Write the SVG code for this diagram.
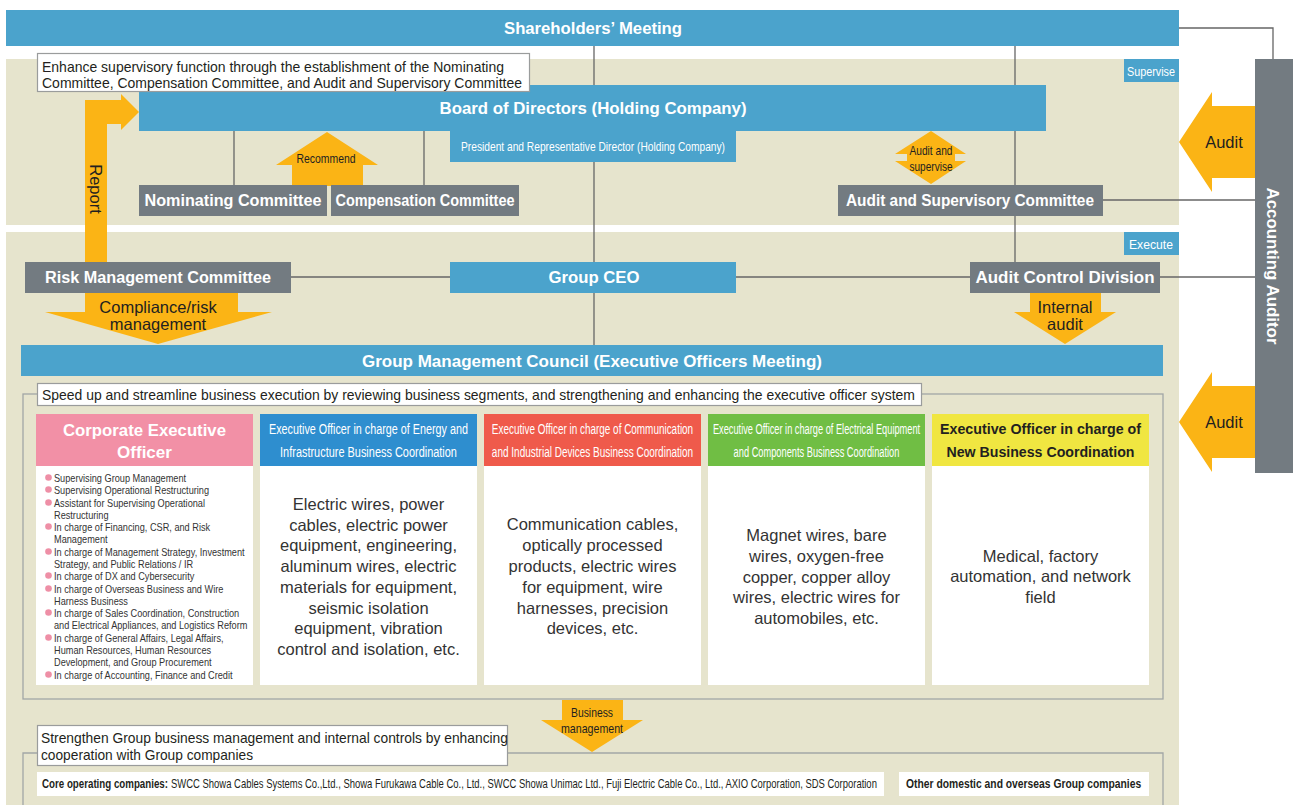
<svg xmlns="http://www.w3.org/2000/svg" width="1293" height="805" viewBox="0 0 1293 805">
  <defs>
    <style>
      .blue { fill: #4ba3cc; }
      .gray { fill: #737b81; }
      .beige { fill: #e6e4cd; }
      .org { fill: #fbb415; }
      .white { fill: #ffffff; }
      .call { fill: #ffffff; stroke: #9a9c9c; stroke-width: 1.2; }
      .ln { fill: none; stroke: #666666; stroke-width: 1.3; }
      .frame { fill: none; stroke: #a2a6a6; stroke-width: 1.3; }
      text { font-family: "Liberation Sans", Arial, sans-serif; dominant-baseline: central; }
      .lbl { font-weight: bold; font-size: 16px; fill: #ffffff; text-anchor: middle; }
      .tag { font-size: 13px; fill: #ffffff; text-anchor: middle; }
      .ar { font-size: 16.5px; fill: #231f20; text-anchor: middle; }
      .sm { font-size: 13px; fill: #231f20; text-anchor: middle; }
      .note { font-size: 15px; fill: #231f20; }
      .hd { font-size: 14.5px; fill: #ffffff; text-anchor: middle; }
      .body { font-size: 16.5px; fill: #333333; text-anchor: middle; }
      .bl { font-size: 11px; fill: #333333; }
      .dot { fill: #ee8fa6; }
      .co { font-size: 12px; fill: #231f20; }
    </style>
  </defs>

  <!-- background bands -->
  <rect class="beige" x="6" y="59" width="1173" height="166"/>
  <rect class="beige" x="6" y="232" width="1173" height="573"/>

  <!-- connectors -->
  <g id="connectors">
    <line class="ln" x1="594" y1="46" x2="594" y2="345"/>
    <line class="ln" x1="1015" y1="46" x2="1015" y2="262"/>
    <line class="ln" x1="234" y1="130" x2="234" y2="186"/>
    <line class="ln" x1="424" y1="130" x2="424" y2="186"/>
    <line class="ln" x1="291" y1="277" x2="450" y2="277"/>
    <line class="ln" x1="736" y1="277" x2="970" y2="277"/>
    <line class="ln" x1="1160" y1="277" x2="1255" y2="277"/>
    <line class="ln" x1="1103" y1="200" x2="1255" y2="200"/>
    <path class="ln" d="M1179,28 H1273 V59"/>
    <rect class="frame" x="23" y="394" width="1140" height="305"/>
    <path class="frame" d="M23,805 V753 H1163 V805"/>
  </g>

  <!-- Shareholders' Meeting -->
  <g id="shareholders">
    <rect class="blue" x="6" y="10" width="1173" height="36"/>
    <text class="lbl" x="593" y="28" textLength="178" lengthAdjust="spacingAndGlyphs">Shareholders’ Meeting</text>
  </g>

  <!-- tags -->
  <g id="tag-supervise">
    <rect class="blue" x="1124" y="59" width="55" height="23"/>
    <text class="tag" x="1151" y="71" textLength="48" lengthAdjust="spacingAndGlyphs">Supervise</text>
  </g>
  <g id="tag-execute">
    <rect class="blue" x="1124" y="232" width="55" height="23"/>
    <text class="tag" x="1151" y="244" textLength="44" lengthAdjust="spacingAndGlyphs">Execute</text>
  </g>

  <!-- Report arrow -->
  <g id="report-arrow">
    <path class="org" d="M85,262 V100 H121 V94 L139,112 L121,130 V124 H107 V262 Z"/>
    <text class="ar" transform="translate(96 189) rotate(90)" x="0" y="0">Report</text>
  </g>

  <!-- Board of Directors -->
  <g id="board">
    <rect class="blue" x="139" y="85" width="907" height="46"/>
    <text class="lbl" x="593" y="108" textLength="307" lengthAdjust="spacingAndGlyphs">Board of Directors (Holding Company)</text>
  </g>
  <g id="president">
    <rect class="blue" x="450" y="130" width="286" height="32"/>
    <text class="tag" x="593" y="146" textLength="264" lengthAdjust="spacingAndGlyphs">President and Representative Director (Holding Company)</text>
  </g>

  <!-- supervisory note -->
  <g id="note-supervisory">
    <rect class="call" x="37.5" y="53.5" width="492" height="38"/>
    <text class="note" x="42" y="66" textLength="462" lengthAdjust="spacingAndGlyphs">Enhance supervisory function through the establishment of the Nominating</text>
    <text class="note" x="42" y="82" textLength="480" lengthAdjust="spacingAndGlyphs">Committee, Compensation Committee, and Audit and Supervisory Committee</text>
  </g>

  <!-- Recommend arrow -->
  <g id="recommend-arrow">
    <path class="org" d="M327,132 L378,165 H363 V186 H292 V165 H276 Z"/>
    <text class="sm" x="326" y="158" textLength="59" lengthAdjust="spacingAndGlyphs">Recommend</text>
  </g>

  <!-- committees -->
  <g id="nominating">
    <rect class="gray" x="139" y="185" width="188" height="31"/>
    <text class="lbl" x="233" y="200" textLength="177" lengthAdjust="spacingAndGlyphs">Nominating Committee</text>
  </g>
  <g id="compensation">
    <rect class="gray" x="331" y="185" width="188" height="31"/>
    <text class="lbl" x="425" y="200" textLength="179" lengthAdjust="spacingAndGlyphs">Compensation Committee</text>
  </g>
  <g id="audit-supervise-arrow">
    <path class="org" d="M931,131 L966,154 H955 V161 H966 L931,184 L895,161 H907 V154 H895 Z"/>
    <text class="sm" x="931" y="150" textLength="43" lengthAdjust="spacingAndGlyphs">Audit and</text>
    <text class="sm" x="931" y="166" textLength="43" lengthAdjust="spacingAndGlyphs">supervise</text>
  </g>
  <g id="audit-supervisory-committee">
    <rect class="gray" x="838" y="185" width="265" height="31"/>
    <text class="lbl" x="970" y="200" textLength="248" lengthAdjust="spacingAndGlyphs">Audit and Supervisory Committee</text>
  </g>

  <!-- Accounting Auditor -->
  <g id="accounting-auditor">
    <rect class="gray" x="1255" y="59" width="38" height="414"/>
    <text class="lbl" transform="translate(1272 266) rotate(90)" x="0" y="0" textLength="157" lengthAdjust="spacingAndGlyphs">Accounting Auditor</text>
  </g>
  <g id="audit-arrow-1">
    <path class="org" d="M1179,142 L1212,92 V106 H1255 V178 H1212 V192 Z"/>
    <text class="ar" x="1224" y="142">Audit</text>
  </g>
  <g id="audit-arrow-2">
    <path class="org" d="M1179,422 L1212,372 V386 H1255 V458 H1212 V472 Z"/>
    <text class="ar" x="1224" y="422">Audit</text>
  </g>

  <!-- execution row -->
  <g id="risk-management">
    <rect class="gray" x="25" y="262" width="266" height="31"/>
    <text class="lbl" x="158" y="277" textLength="226" lengthAdjust="spacingAndGlyphs">Risk Management Committee</text>
  </g>
  <g id="group-ceo">
    <rect class="blue" x="450" y="262" width="286" height="31"/>
    <text class="lbl" x="594" y="277" textLength="91" lengthAdjust="spacingAndGlyphs">Group CEO</text>
  </g>
  <g id="audit-control">
    <rect class="gray" x="970" y="262" width="190" height="31"/>
    <text class="lbl" x="1065" y="277" textLength="179" lengthAdjust="spacingAndGlyphs">Audit Control Division</text>
  </g>
  <g id="compliance-arrow">
    <path class="org" d="M85,293 V312 H45 L158,344 L272,312 H238 V293 Z"/>
    <text class="ar" x="158" y="307">Compliance/risk</text>
    <text class="ar" x="158" y="324">management</text>
  </g>
  <g id="internal-audit-arrow">
    <path class="org" d="M1030,293 V312 H1014 L1065,344 L1116,312 H1101 V293 Z"/>
    <text class="ar" x="1065" y="307">Internal</text>
    <text class="ar" x="1065" y="324">audit</text>
  </g>

  <!-- Group Management Council -->
  <g id="council">
    <rect class="blue" x="21" y="345" width="1142" height="31"/>
    <text class="lbl" x="592" y="361" textLength="460" lengthAdjust="spacingAndGlyphs">Group Management Council (Executive Officers Meeting)</text>
  </g>

  <!-- execution note -->
  <g id="note-execution">
    <rect class="call" x="37.5" y="383.5" width="884" height="22"/>
    <text class="note" x="42" y="394" textLength="873" lengthAdjust="spacingAndGlyphs">Speed up and streamline business execution by reviewing business segments, and strengthening and enhancing the executive officer system</text>
  </g>

  <!-- executive officer columns -->
  <g id="corporate-officer">
    <rect fill="#f290a6" x="36" y="414" width="217" height="52"/>
    <rect class="white" x="36" y="466" width="217" height="219"/>
    <text class="lbl" x="144.5" y="430" style="font-size:17px" textLength="163" lengthAdjust="spacingAndGlyphs">Corporate Executive</text>
    <text class="lbl" x="144.5" y="452" style="font-size:17px">Officer</text>
    <g>
      <circle class="dot" cx="48.5" cy="477.5" r="3.3"/>
      <circle class="dot" cx="48.5" cy="489.5" r="3.3"/>
      <circle class="dot" cx="48.5" cy="502.5" r="3.3"/>
      <circle class="dot" cx="48.5" cy="526.5" r="3.3"/>
      <circle class="dot" cx="48.5" cy="551.5" r="3.3"/>
      <circle class="dot" cx="48.5" cy="575.5" r="3.3"/>
      <circle class="dot" cx="48.5" cy="588.5" r="3.3"/>
      <circle class="dot" cx="48.5" cy="612.5" r="3.3"/>
      <circle class="dot" cx="48.5" cy="637.5" r="3.3"/>
      <circle class="dot" cx="48.5" cy="674.5" r="3.3"/>
    </g>
    <g transform="translate(54 0) scale(0.835 1)">
      <text class="bl" x="0" y="478">Supervising Group Management</text>
      <text class="bl" x="0" y="490">Supervising Operational Restructuring</text>
      <text class="bl" x="0" y="503">Assistant for Supervising Operational</text>
      <text class="bl" x="0" y="515">Restructuring</text>
      <text class="bl" x="0" y="527">In charge of Financing, CSR, and Risk</text>
      <text class="bl" x="0" y="539">Management</text>
      <text class="bl" x="0" y="552">In charge of Management Strategy, Investment</text>
      <text class="bl" x="0" y="564">Strategy, and Public Relations / IR</text>
      <text class="bl" x="0" y="576">In charge of DX and Cybersecurity</text>
      <text class="bl" x="0" y="589">In charge of Overseas Business and Wire</text>
      <text class="bl" x="0" y="601">Harness Business</text>
      <text class="bl" x="0" y="613">In charge of Sales Coordination, Construction</text>
      <text class="bl" x="0" y="625">and Electrical Appliances, and Logistics Reform</text>
      <text class="bl" x="0" y="638">In charge of General Affairs, Legal Affairs,</text>
      <text class="bl" x="0" y="650">Human Resources, Human Resources</text>
      <text class="bl" x="0" y="662">Development, and Group Procurement</text>
      <text class="bl" x="0" y="675">In charge of Accounting, Finance and Credit</text>
    </g>
  </g>

  <!-- condensed header lines: horizontal scale + fitted length -->
  <g id="energy-officer">
    <rect fill="#2e8ecf" x="260" y="414" width="217" height="52"/>
    <rect class="white" x="260" y="466" width="217" height="219"/>
    <text class="hd" transform="translate(368.5 429) scale(0.74 1)" x="0" y="0" textLength="269" lengthAdjust="spacingAndGlyphs">Executive Officer in charge of Energy and</text>
    <text class="hd" transform="translate(368.5 452) scale(0.74 1)" x="0" y="0" textLength="239" lengthAdjust="spacingAndGlyphs">Infrastructure Business Coordination</text>
    <text class="body" x="368.5" y="504">Electric wires, power</text>
    <text class="body" x="368.5" y="525">cables, electric power</text>
    <text class="body" x="368.5" y="545">equipment, engineering,</text>
    <text class="body" x="368.5" y="566">aluminum wires, electric</text>
    <text class="body" x="368.5" y="587">materials for equipment,</text>
    <text class="body" x="368.5" y="608">seismic isolation</text>
    <text class="body" x="368.5" y="628">equipment, vibration</text>
    <text class="body" x="368.5" y="649">control and isolation, etc.</text>
  </g>

  <g id="communication-officer">
    <rect fill="#ef5a4b" x="484" y="414" width="217" height="52"/>
    <rect class="white" x="484" y="466" width="217" height="219"/>
    <text class="hd" transform="translate(592.5 429) scale(0.74 1)" x="0" y="0" textLength="272" lengthAdjust="spacingAndGlyphs">Executive Officer in charge of Communication</text>
    <text class="hd" transform="translate(592.5 452) scale(0.74 1)" x="0" y="0" textLength="272" lengthAdjust="spacingAndGlyphs">and Industrial Devices Business Coordination</text>
    <text class="body" x="592.5" y="524">Communication cables,</text>
    <text class="body" x="592.5" y="545">optically processed</text>
    <text class="body" x="592.5" y="566">products, electric wires</text>
    <text class="body" x="592.5" y="587">for equipment, wire</text>
    <text class="body" x="592.5" y="608">harnesses, precision</text>
    <text class="body" x="592.5" y="628">devices, etc.</text>
  </g>

  <g id="electrical-officer">
    <rect fill="#70be44" x="708" y="414" width="217" height="52"/>
    <rect class="white" x="708" y="466" width="217" height="219"/>
    <text class="hd" transform="translate(816.5 429) scale(0.74 1)" x="0" y="0" textLength="280" lengthAdjust="spacingAndGlyphs">Executive Officer in charge of Electrical Equipment</text>
    <text class="hd" transform="translate(816.5 452) scale(0.74 1)" x="0" y="0" textLength="224" lengthAdjust="spacingAndGlyphs">and Components Business Coordination</text>
    <text class="body" x="816.5" y="535">Magnet wires, bare</text>
    <text class="body" x="816.5" y="556">wires, oxygen-free</text>
    <text class="body" x="816.5" y="577">copper, copper alloy</text>
    <text class="body" x="816.5" y="597">wires, electric wires for</text>
    <text class="body" x="816.5" y="618">automobiles, etc.</text>
  </g>

  <g id="new-business-officer">
    <rect fill="#f0e641" x="932" y="414" width="217" height="52"/>
    <rect class="white" x="932" y="466" width="217" height="219"/>
    <text class="hd" x="1040.5" y="429" style="font-weight:bold;fill:#231f20" textLength="201" lengthAdjust="spacingAndGlyphs">Executive Officer in charge of</text>
    <text class="hd" x="1040.5" y="452" style="font-weight:bold;fill:#231f20" textLength="188" lengthAdjust="spacingAndGlyphs">New Business Coordination</text>
    <text class="body" x="1040.5" y="556">Medical, factory</text>
    <text class="body" x="1040.5" y="576">automation, and network</text>
    <text class="body" x="1040.5" y="597">field</text>
  </g>

  <!-- Business management arrow -->
  <g id="business-management-arrow">
    <path class="org" d="M562,700 V720 H541 L592,752 L643,720 H623 V700 Z"/>
    <text class="sm" x="592" y="712" textLength="42" lengthAdjust="spacingAndGlyphs">Business</text>
    <text class="sm" x="592" y="728" textLength="62" lengthAdjust="spacingAndGlyphs">management</text>
  </g>

  <!-- group companies -->
  <g id="note-group">
    <rect class="call" x="37.5" y="725.5" width="470" height="40"/>
    <text class="note" x="41" y="737" textLength="467" lengthAdjust="spacingAndGlyphs">Strengthen Group business management and internal controls by enhancing</text>
    <text class="note" x="41" y="754" textLength="212" lengthAdjust="spacingAndGlyphs">cooperation with Group companies</text>
  </g>
  <g id="core-companies">
    <rect class="white" x="37" y="772" width="847" height="24"/>
    <text class="co" transform="translate(42 784) scale(0.72 1)" x="0" y="0" style="font-weight:bold" textLength="175" lengthAdjust="spacingAndGlyphs">Core operating companies:</text>
    <text class="co" transform="translate(171 784) scale(0.78 1)" x="0" y="0" textLength="905" lengthAdjust="spacingAndGlyphs">SWCC Showa Cables Systems Co.,Ltd., Showa Furukawa Cable Co., Ltd., SWCC Showa Unimac Ltd., Fuji Electric Cable Co., Ltd., AXIO Corporation, SDS Corporation</text>
  </g>
  <g id="other-companies">
    <rect class="white" x="899" y="772" width="250" height="24"/>
    <text class="co" transform="translate(906 784) scale(0.8 1)" x="0" y="0" style="font-weight:bold" textLength="294" lengthAdjust="spacingAndGlyphs">Other domestic and overseas Group companies</text>
  </g>
</svg>
